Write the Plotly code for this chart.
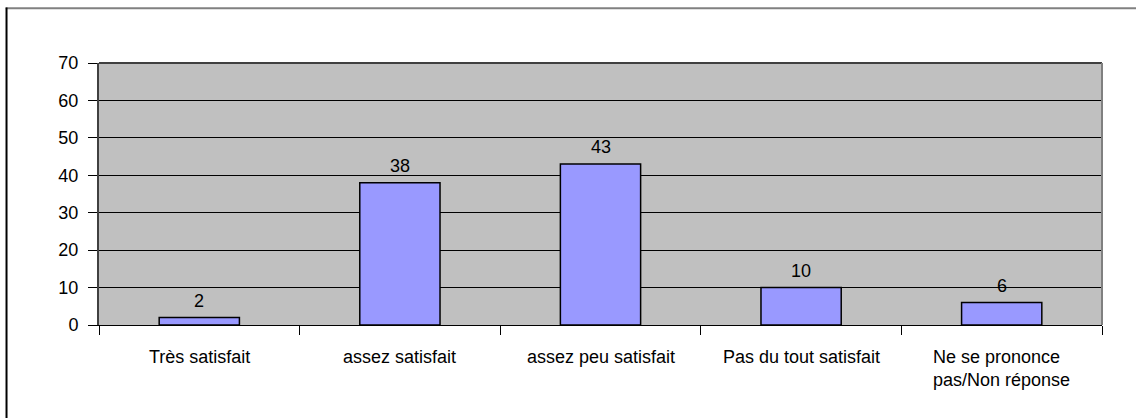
import plotly.graph_objects as go

categories = ["Très satisfait", "assez satisfait", "assez peu satisfait",
              "Pas du tout satisfait", "Ne se prononce<br>pas/Non réponse"]
values = [2, 38, 43, 10, 6]
y_ticks = [0, 10, 20, 30, 40, 50, 60, 70]

FONT = "Liberation Sans, Arial, sans-serif"
FS = 18

fig = go.Figure(
    go.Bar(
        x=categories,
        y=values,
        marker=dict(color="#9999ff", line=dict(color="#000000", width=1.5)),
        hoverinfo="skip",
    )
)

# value labels above bars
for c, v in zip(categories, values):
    fig.add_annotation(x=c, y=v, text=str(v), showarrow=False, yanchor="bottom",
                       yshift=5, font=dict(family=FONT, size=FS, color="#000000"))

# category labels, left aligned like the original
for c in categories:
    fig.add_annotation(x=c, y=0, yref="y", text=c, showarrow=False, yanchor="top",
                       yshift=-20, align="left",
                       font=dict(family=FONT, size=FS, color="#000000"))

# outer frame (top and left edges only visible)
fig.add_shape(type="line", xref="paper", yref="paper", x0=-0.093, x1=1.04,
              y0=1.209, y1=1.209, line=dict(color="#808080", width=2))
fig.add_shape(type="line", xref="paper", yref="paper", x0=-0.0922, x1=-0.0922,
              y0=1.212, y1=-0.4, line=dict(color="#000000", width=2))

fig.update_layout(
    width=1136,
    height=418,
    margin=dict(l=99, r=34, t=63, b=93),
    paper_bgcolor="#ffffff",
    plot_bgcolor="#c0c0c0",
    bargap=0.6,
    showlegend=False,
    font=dict(family=FONT, size=FS, color="#000000"),
    xaxis=dict(
        type="category",
        showticklabels=False,
        ticks="outside",
        tickson="boundaries",
        ticklen=9,
        tickcolor="#000000",
        showline=True,
        linecolor="#000000",
        linewidth=1,
        showgrid=False,
    ),
    yaxis=dict(
        range=[0, 70],
        tickvals=y_ticks,
        ticks="outside",
        ticklen=9,
        tickcolor="#000000",
        ticklabelstandoff=6,
        showline=True,
        linecolor="#404040",
        linewidth=2,
        gridcolor="#000000",
        gridwidth=1,
        zeroline=False,
    ),
)

# plot area border on top and right
fig.add_shape(type="line", xref="paper", yref="paper", x0=0, x1=1, y0=1, y1=1,
              line=dict(color="#404040", width=2))
fig.add_shape(type="line", xref="paper", yref="paper", x0=1, x1=1, y0=0, y1=1,
              line=dict(color="#808080", width=2))

fig.write_html("out.html", config={"displayModeBar": False},
               post_script="document.body.style.margin='0';")
